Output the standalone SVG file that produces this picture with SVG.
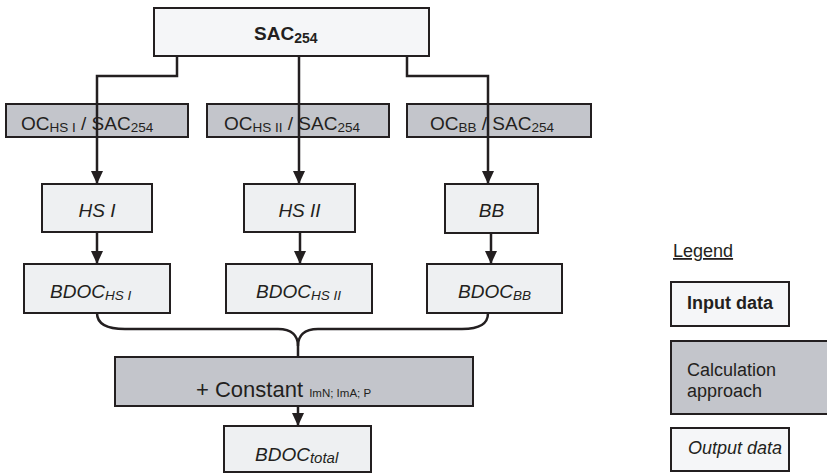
<svg xmlns="http://www.w3.org/2000/svg" width="827" height="473" viewBox="0 0 827 473">
<style>
.box{stroke:#231f20;stroke-width:2}
.in{fill:#f5f6f8}
.out{fill:#eef0f2}
.calc{fill:#c3c5cb}
.t{font-family:"Liberation Sans",Arial,sans-serif;font-size:19px;fill:#231f20}
.lg{font-size:18px}
.it{font-style:italic}
.b{font-weight:bold}
.sub{font-size:13.5px}
.big{font-size:22px}
.tiny{font-size:11.5px}
.conn{fill:none;stroke:#231f20;stroke-width:2.5}
</style>
<defs>
<marker id="ah" markerWidth="13" markerHeight="12" refX="13" refY="6" orient="auto" markerUnits="userSpaceOnUse" viewBox="0 0 13 12">
<path d="M0,0 L13,6 L0,12 z" fill="#231f20"/>
</marker>
</defs>
<rect width="827" height="473" fill="#ffffff"/>

<g id="sac254">
<rect class="box in" x="154" y="8" width="275" height="48"/>
<text class="t b" x="254" y="40">SAC<tspan style="font-size:14px" dy="3">254</tspan></text>
</g>

<g id="oc-hs1">
<rect class="box calc" x="6" y="104" width="182" height="33"/>
<text class="t" x="21" y="130">OC<tspan class="sub" dy="2">HS I</tspan><tspan dy="-2"> / SAC</tspan><tspan class="sub" dy="2">254</tspan></text>
</g>
<g id="oc-hs2">
<rect class="box calc" x="207" y="104" width="182" height="33"/>
<text class="t" x="224" y="130">OC<tspan class="sub" dy="2">HS II</tspan><tspan dy="-2"> / SAC</tspan><tspan class="sub" dy="2">254</tspan></text>
</g>
<g id="oc-bb">
<rect class="box calc" x="407" y="104" width="184" height="33"/>
<text class="t" x="430" y="130">OC<tspan class="sub" dy="2">BB</tspan><tspan dy="-2"> / SAC</tspan><tspan class="sub" dy="2">254</tspan></text>
</g>

<g id="hs1">
<rect class="box out" x="42" y="184" width="110" height="48"/>
<text class="t it" x="97" y="217" text-anchor="middle">HS I</text>
</g>
<g id="hs2">
<rect class="box out" x="244" y="184" width="111" height="48"/>
<text class="t it" x="299.5" y="217" text-anchor="middle">HS II</text>
</g>
<g id="bb">
<rect class="box out" x="445" y="184" width="93" height="49"/>
<text class="t it" x="491.5" y="217" text-anchor="middle">BB</text>
</g>

<g id="bdoc-hs1">
<rect class="box out" x="24" y="264" width="146" height="49"/>
<text class="t it" x="50" y="298">BDOC<tspan class="sub" dy="2">HS I</tspan></text>
</g>
<g id="bdoc-hs2">
<rect class="box out" x="226" y="264" width="146" height="49"/>
<text class="t it" x="256" y="298">BDOC<tspan class="sub" dy="2">HS II</tspan></text>
</g>
<g id="bdoc-bb">
<rect class="box out" x="427" y="264" width="135" height="49"/>
<text class="t it" x="458" y="298">BDOC<tspan class="sub" dy="2">BB</tspan></text>
</g>

<g id="constant">
<rect class="box calc" x="115" y="357" width="358" height="49"/>
<text class="t big" x="196" y="397">+ Constant <tspan class="tiny">ImN; ImA; P</tspan></text>
</g>

<g id="bdoc-total">
<rect class="box out" x="224" y="426" width="147" height="46"/>
<text class="t it" x="255" y="461">BDOC<tspan class="sub" style="font-size:15px" dy="2">total</tspan></text>
</g>

<g id="legend">
<text class="t lg" x="673" y="257" text-decoration="underline">Legend</text>
<rect class="box in" x="671" y="282" width="118" height="44"/>
<text class="t lg b" x="687" y="309">Input data</text>
<rect class="box calc" x="671" y="341" width="160" height="73"/>
<text class="t lg" x="687" y="376">Calculation</text>
<text class="t lg" x="687" y="397">approach</text>
<rect class="box in" x="671" y="428" width="118" height="43"/>
<text class="t lg it" x="688" y="454">Output data</text>
</g>

<g id="connectors">
<path class="conn" d="M177,56 V76 H97 V184" marker-end="url(#ah)"/>
<path class="conn" d="M299,56 V184" marker-end="url(#ah)"/>
<path class="conn" d="M407,56 V76 H488 V184" marker-end="url(#ah)"/>
<path class="conn" d="M97,232 V264" marker-end="url(#ah)"/>
<path class="conn" d="M300,232 V264" marker-end="url(#ah)"/>
<path class="conn" d="M491,233 V264" marker-end="url(#ah)"/>
<path class="conn" d="M97,313 C97,324 106,329 125,329 L278,329 C292,329 298,336 298,346 V357"/>
<path class="conn" d="M488,313 C488,324 480,329 462,329 L318,329 C304,329 298,336 298,346"/>
<path class="conn" d="M298,406 V426" marker-end="url(#ah)"/>
</g>
</svg>
